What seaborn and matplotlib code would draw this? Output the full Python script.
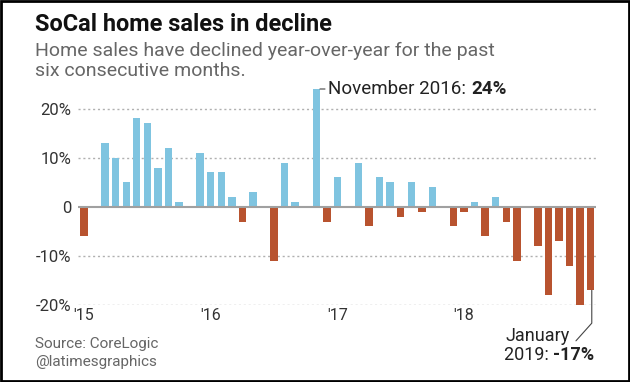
import numpy as np
import pandas as pd
import matplotlib
matplotlib.use('Agg')
from matplotlib import pyplot as plt
from matplotlib import font_manager
from matplotlib.patches import Rectangle
import seaborn as sns

# Year-over-year change in SoCal home sales, Jan 2015 - Jan 2019 (percent)
years = [2015, 2016, 2017, 2018, 2019]
month_names = ['Jan', 'Feb', 'Mar', 'Apr', 'May', 'Jun',
               'Jul', 'Aug', 'Sep', 'Oct', 'Nov', 'Dec']
change_2015 = [-6, 0, 13, 10, 5, 18, 17, 8, 12, 1, 0, 11]
change_2016 = [7, 7, 2, -3, 3, 0, -11, 9, 1, 0, 24, -3]
change_2017 = [6, 0, 9, -4, 6, 5, -2, 5, -1, 4, 0, -4]
change_2018 = [-1, 1, -6, 2, -3, -11, 0, -8, -18, -7, -12, -20]
change_2019 = [-17]
year_ticks = ["'15", "'16", "'17", "'18"]
y_ticks = [-20, -10, 0, 10, 20]
y_tick_labels = ['-20%', '-10%', '0', '10%', '20%']

values = change_2015 + change_2016 + change_2017 + change_2018 + change_2019
months = [f'{m} {y}' for y in years[:4] for m in month_names] + ['Jan 2019']

df = pd.DataFrame({'month': months, 'change': values})
df['dir'] = np.where(df['change'] < 0, 'down', 'up')

blue = '#7fc4e0'
red = '#b8532f'

sns.set_style('white')
body = ['Roboto', 'DejaVu Sans']
plt.rcParams['font.family'] = body

# condensed face for the title if one is around
installed = {f.name for f in font_manager.fontManager.ttflist}
print(sorted(n for n in installed if 'Narrow' in n or 'Condensed' in n))
title_font = next((f for f in ['Liberation Sans Narrow', 'DejaVu Sans Condensed']
                   if f in installed), 'Roboto')

fig = plt.figure(figsize=(6.3, 3.82), dpi=100)
ax = fig.add_axes([78 / 630, 1 - 305 / 382, 518 / 630, 216 / 382])

sns.barplot(data=df, x='month', y='change', hue='dir', order=months,
            palette={'up': blue, 'down': red}, width=0.7, legend=False,
            saturation=1, edgecolor='none', ax=ax)

ax.set_xlim(-0.57, 48.5)
ax.set_ylim(-20, 24)

# grid and zero line
for v in [-20, -10, 10, 20]:
    ax.axhline(v, color='#b0b0b0', lw=1, ls=(0, (1.5, 2)), zorder=0)
ax.axhline(0, color='#a0a0a0', lw=1.5, zorder=3)

ax.set_yticks(y_ticks)
ax.set_yticklabels(y_tick_labels, fontsize=12, color='#333333')
ax.set_xticks([0, 12, 24, 36])
ax.set_xticklabels(year_ticks, fontsize=11.5, color='#333333')
ax.tick_params(length=0, pad=5)
ax.tick_params(axis='x', pad=2)
ax.set_xlabel('')
ax.set_ylabel('')
sns.despine(ax=ax, left=True, bottom=True)

# November 2016 label
nov = ax.annotate('November 2016: ', xy=(22.35, 24), xytext=(6, 0),
                  textcoords='offset points', va='center', ha='left',
                  fontsize=13.5, color='#222222', annotation_clip=False,
                  arrowprops=dict(arrowstyle='-', color='#444444', lw=0.8,
                                  shrinkA=0, shrinkB=0))
ax.annotate('24%', xy=(1, 0), xycoords=nov, va='bottom', ha='left',
            fontsize=13.5, fontweight='bold', color='#222222')

# January 2019 label
ax.plot([48.1, 48.1, 46.6], [-17, -23.7, -27.3], color='#444444', lw=0.8,
        clip_on=False)
fig.text(505 / 630, 1 - 341 / 382, 'January', fontsize=13, color='#222222',
         va='baseline', ha='left')
jan = fig.text(504 / 630, 1 - 360 / 382, '2019: ', fontsize=13,
               color='#222222', va='baseline', ha='left')
ax.annotate('-17%', xy=(1, 0), xycoords=jan, va='bottom', ha='left',
            fontsize=13, fontweight='bold', color='#222222')

# title, subtitle, credits
title = fig.text(35 / 630, 1 - 31 / 382, 'SoCal home sales in decline',
                 fontsize=17, fontweight='bold', color='#111111',
                 va='baseline', family=[title_font, 'DejaVu Sans'])
# squeeze the title to the width it has in the original
fig.canvas.draw()
w = title.get_window_extent().width
if w > 297:
    title.set_fontsize(17 * 297 / w)
fig.text(35 / 630, 1 - 56 / 382,
         'Home sales have declined year-over-year for the past',
         fontsize=14, color='#666666', va='baseline')
fig.text(35 / 630, 1 - 76 / 382, 'six consecutive months.',
         fontsize=14, color='#666666', va='baseline')
fig.text(35 / 630, 1 - 348 / 382, 'Source: CoreLogic', fontsize=11,
         color='#666666', va='baseline')
fig.text(35 / 630, 1 - 366 / 382, '@latimesgraphics', fontsize=11,
         color='#666666', va='baseline')

# outer frame
fig.patches.append(Rectangle((0.0015, 0.002), 0.997, 0.996,
                             transform=fig.transFigure, fill=False,
                             edgecolor='black', lw=2))

fig.savefig('out.png', dpi=100)
